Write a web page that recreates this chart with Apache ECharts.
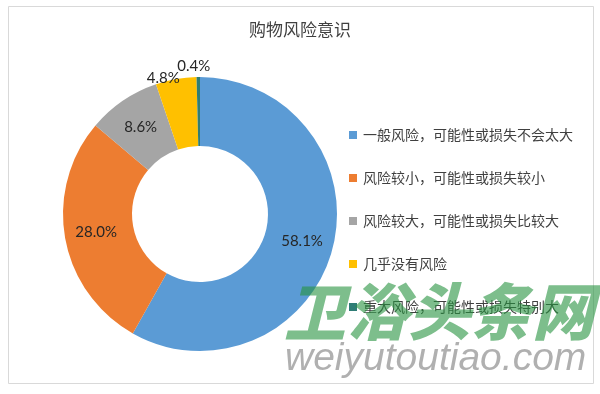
<!DOCTYPE html>
<html>
<head>
<meta charset="utf-8">
<script src="https://cdn.jsdelivr.net/npm/echarts@6/dist/echarts.min.js"></script>
<style>
html,body{margin:0;padding:0;background:#fff;}
#c{width:600px;height:394px;}
</style>
</head>
<body>
<div id="c"></div>
<script>
const title = '购物风险意识';
const categories = ['一般风险，可能性或损失不会太大','风险较小，可能性或损失较小','风险较大，可能性或损失比较大','几乎没有风险','重大风险，可能性或损失特别大'];
const values = [58.1, 28.0, 8.6, 4.8, 0.4];
const colors = ['#5B9BD5','#ED7D31','#A5A5A5','#FFC000','#2f7d76'];
const outsideLabel = [false, false, false, true, true];
const labelShift = [null, null, null, [9, 0], [17, -10]];
const watermarkCn = '卫浴头条网';
const watermarkEn = 'weiyutoutiao.com';

const chart = echarts.init(document.getElementById('c'), null, {renderer:'canvas'});
const data = categories.map((name, i) => {
  const d = {name, value: values[i], itemStyle:{color: colors[i]}};
  if (outsideLabel[i]) {
    d.label = {position:'outside', offset: labelShift[i]};
    d.labelLine = {show:false, length:1, length2:0};
  }
  return d;
});
chart.setOption({
  animation:false,
  backgroundColor:'#fff',
  title:{text:title, left:'center', top:16, textStyle:{fontFamily:'Noto Sans CJK SC', fontSize:17, fontWeight:'normal', color:'#404040'}},
  legend:{
    orient:'vertical', left:344, top:123, itemWidth:8, itemHeight:8, itemGap:29,
    icon:'rect',
    textStyle:{fontFamily:'Noto Sans CJK SC', fontSize:14, color:'#404040', padding:[0,0,0,1]},
    data:categories
  },
  series:[{
    type:'pie',
    center:[200,214],
    radius:[68,137],
    startAngle:90,
    clockwise:true,
    avoidLabelOverlap:false,
    silent:true,
    labelLayout:{hideOverlap:false},
    label:{show:true, position:'inside', formatter:p=>p.value.toFixed(1)+'%', fontFamily:'Lato', fontSize:15, color:'#262626'},
    labelLine:{show:false},
    itemStyle:{borderWidth:0},
    data:data
  }],
  graphic:[
    {type:'rect', z:-1, shape:{x:8.5, y:6.5, width:585, height:377}, style:{fill:'none', stroke:'#d9d9d9', lineWidth:1}},
    {type:'text', z:100, left:284, top:280, style:{text:watermarkCn, font:'italic 900 62px "Noto Sans CJK SC"', fill:'rgba(38,147,63,0.6)'}},
    {type:'text', z:100, left:285, top:340, style:{text:watermarkEn, font:'italic 39px "Liberation Sans"', fill:'rgba(150,150,150,0.75)'}}
  ]
});
</script>
</body>
</html>
